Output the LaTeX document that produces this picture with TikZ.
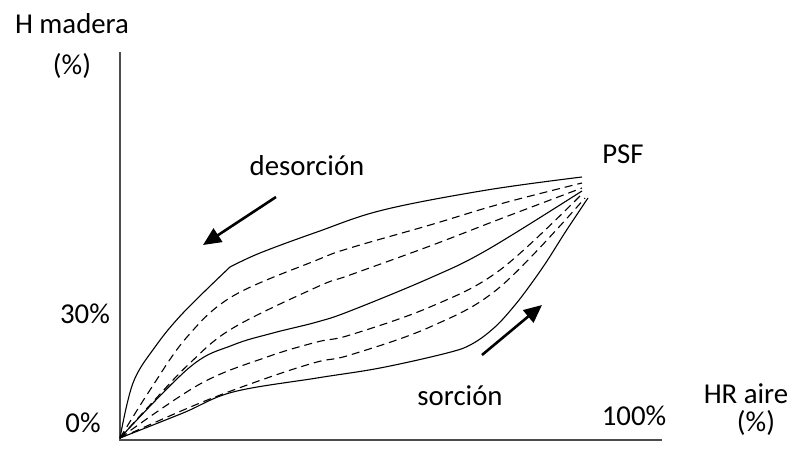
\documentclass[tikz,border=0pt]{standalone}
\usepackage{fontspec}
\setmainfont{Carlito}
\usetikzlibrary{arrows.meta}
\tikzstyle{axis} = [line width=1pt, color=black!70]
\tikzstyle{curve} = [line width=0.55pt, color=black]
\tikzstyle{dcurve} = [curve, dash pattern=on 4pt off 2.5pt]
\tikzstyle{arrow} = [line width=1.3pt, -{Triangle[length=9pt,width=8pt]}]
\tikzstyle{lbl} = [anchor=base, inner sep=0pt, font=\fontsize{14.4}{17}\selectfont]

\begin{document}
\begin{tikzpicture}[x=0.5pt, y=-0.5pt]
\useasboundingbox (0,0) rectangle (792,449);
% Axes
\coordinate (O) at (120,440);
\coordinate (ytop) at (120,52);
\coordinate (xend) at (662,440);
\draw[axis] (ytop) -- (O) -- (xend);

% Axis labels
\node[lbl] (hmadera) at (72,34) {H madera};
\node[lbl] (hpct) at (72,75) {(\%)};
\node[lbl] (p30) at (85,323) {30\%};
\node[lbl] (p0) at (83,432) {0\%};
\node[lbl] (p100) at (634,425) {100\%};
\node[lbl] (hraire) at (746,403) {HR aire};
\node[lbl] (hrpct) at (756,431) {(\%)};

% Curve labels
\node[lbl] (desorcion) at (307,175) {desorción};
\node[lbl] (sorcion) at (460,405) {sorción};
\node[lbl] (psf) at (623,163) {PSF};

% Desorption curves
\draw[curve] plot[smooth, tension=0.6] coordinates {(120,438) (133,383) (155,347) (183,313) (230,267)}
  -- plot[smooth, tension=0.6] coordinates {(230,267) (260,253) (317,232) (383,210) (487,190) (582,177)};
\draw[dcurve] plot[smooth, tension=0.6] coordinates {(120,438) (150,390) (187,337) (233,296) (317,260) (350,248) (430,225) (500,204) (582,183)};
\draw[dcurve] plot[smooth, tension=0.6] coordinates {(120,438) (150,405) (190,363) (233,328) (317,287) (350,275) (430,246) (500,219) (582,188)};
% Middle curve
\draw[curve] plot[smooth, tension=0.6] coordinates {(120,438) (190,367) (233,345) (273,333) (317,322) (350,311) (430,278) (487,250) (582,191)};
% Sorption curves
\draw[dcurve] plot[smooth, tension=0.6] coordinates {(120,438) (200,384) (267,357) (317,342) (350,335) (430,307) (500,270) (582,194)};
\draw[dcurve] plot[smooth, tension=0.6] coordinates {(120,438) (200,403) (267,378) (317,362) (350,355) (430,327) (500,287) (585,198)};
\draw[curve] plot[smooth, tension=0.6] coordinates {(120,438) (183,413) (233,392) (317,378) (380,368) (447,353) (472,344) (495,327) (515,305) (531,284) (547,261) (566,231) (588,198)};

% Direction arrows
\coordinate (d1) at (276,197);
\coordinate (d2) at (203,245);
\coordinate (s1) at (482,355);
\coordinate (s2) at (542,305);
\draw[arrow] (d1) -- (d2);
\draw[arrow] (s1) -- (s2);
\end{tikzpicture}
\end{document}
